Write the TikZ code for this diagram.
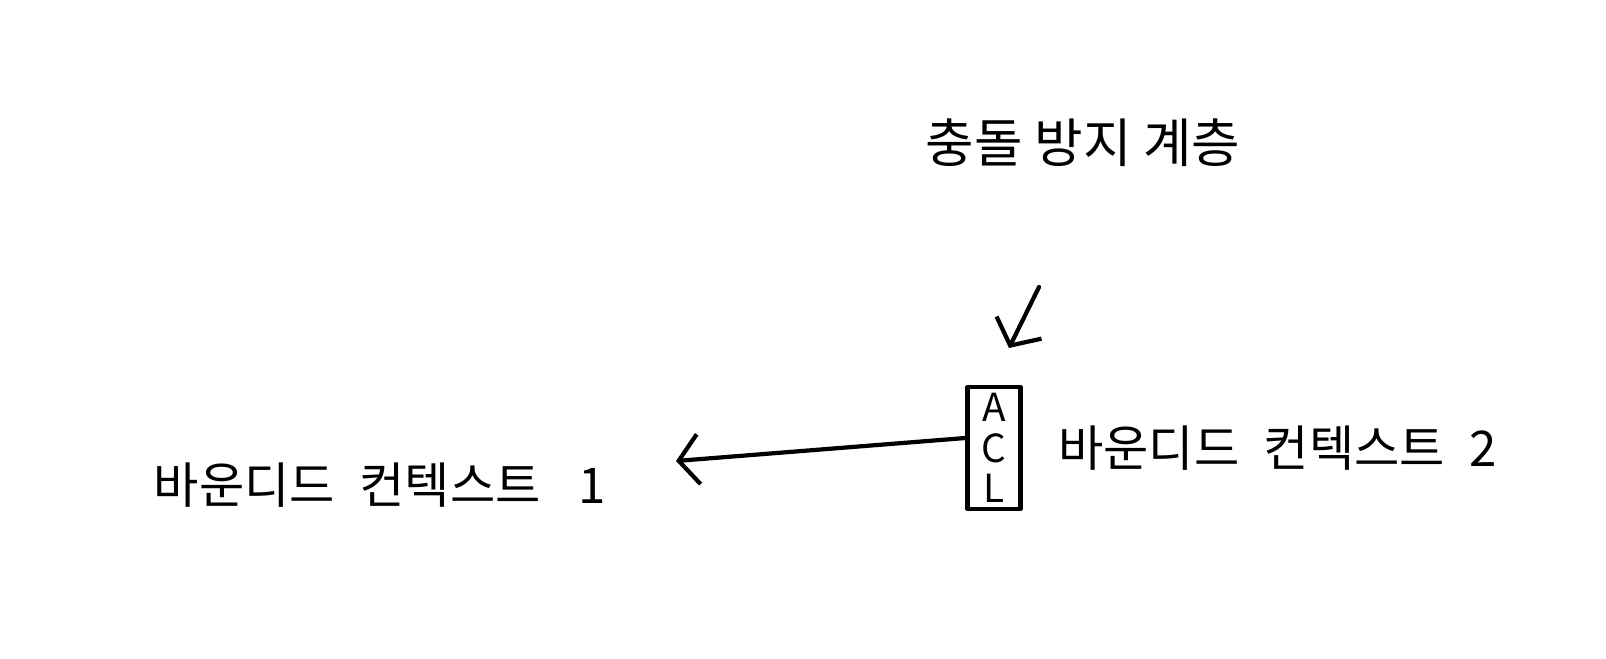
\documentclass[tikz,border=0pt]{standalone}
\usepackage{fontspec}
\newfontfamily\kofont{Noto Sans CJK KR}
\usetikzlibrary{positioning}
\usetikzlibrary{arrows.meta}

\begin{document}
\begin{tikzpicture} [line width=1.2pt, line cap=round, line join=round]
\tikzset{
 ctx/.style={font=\kofont\fontsize{14}{17}\selectfont, inner sep=1pt},
 aclbox/.style={draw, align=center, minimum width=.53cm, minimum height=1.22cm, inner sep=.5pt, font=\kofont\fontsize{11}{11.5}\selectfont},
 barb/.style={-{Straight Barb[length=2mm,width=5mm]}}
}
\useasboundingbox (0,0) rectangle (16.06,6.58);
\node[aclbox] (acl) at (9.94,2.10) {A\\C\\L};
\node[ctx, right=.3cm of acl] (bc2) {바운디드\; 컨텍스트\; 2};
\node[ctx] (bc1) at (3.80,1.73) {바운디드\; 컨텍스트\;\; 1};
\node[ctx, font=\kofont\fontsize{15}{18}\selectfont] (title) at (10.83,5.15) {충돌 방지 계층};
\coordinate (left end) at (6.76,1.97);
\coordinate (pointer) at (10.39,3.71);
\coordinate (pointer tip) at (10.09,3.10);
\draw[barb] ([yshift=1mm]acl.west) -- (left end);
\draw[barb] (pointer) -- (pointer tip);
\end{tikzpicture}
\end{document}
